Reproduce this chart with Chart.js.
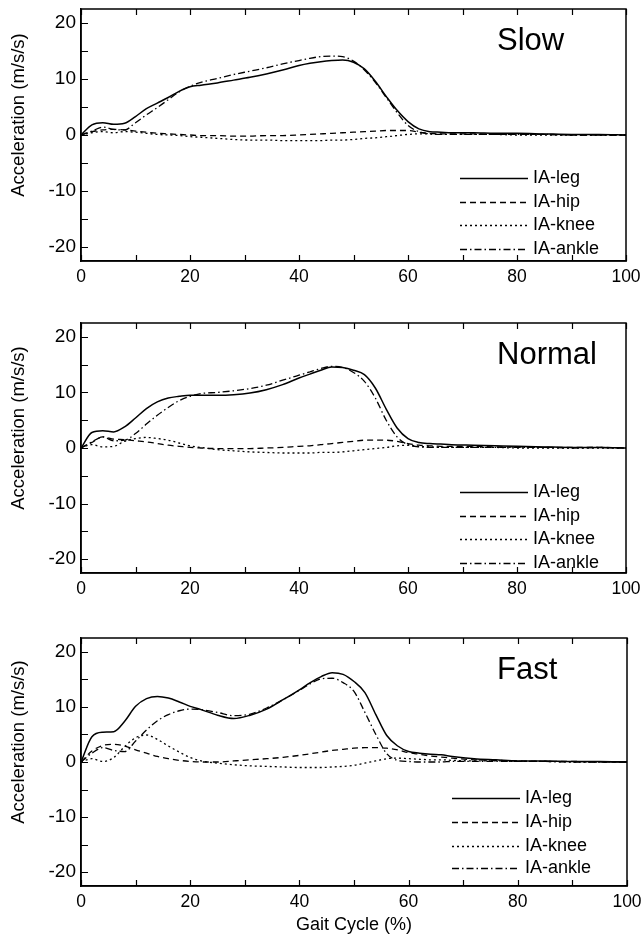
<!DOCTYPE html>
<html>
<head>
<meta charset="utf-8">
<script src="https://cdn.jsdelivr.net/npm/chart.js@4.4.1/dist/chart.umd.min.js"></script>
<style>
  body { margin: 0; background: #fff; width: 641px; height: 936px; position: relative; overflow: hidden; }
  canvas { position: absolute; left: 0; }
</style>
</head>
<body>
<canvas id="slowCanvas" width="641" height="300" style="top:0px"></canvas>
<canvas id="normalCanvas" width="641" height="315" style="top:300px"></canvas>
<canvas id="fastCanvas" width="641" height="321" style="top:615px"></canvas>
<script>
// gait cycle (%) sample points
var gaitCycle = [0, 2, 4, 6, 8, 10, 12, 14, 16, 18, 20, 22, 25, 28, 31, 34, 37, 40, 42, 44,
                 46, 48, 50, 52, 54, 56, 58, 60, 62, 64, 66, 68, 72, 76, 80, 85, 90, 95, 100];

var seriesLabels = ['IA-leg', 'IA-hip', 'IA-knee', 'IA-ankle'];
var xTickValues = [0, 10, 20, 30, 40, 50, 60, 70, 80, 90, 100];
var yTickValues = [-20, -15, -10, -5, 0, 5, 10, 15, 20];

// Slow
var slowLeg = [0, 1.8, 2.2, 1.9, 2.1, 3.3, 4.7, 5.7, 6.7, 7.8, 8.6, 8.9, 9.3, 9.8, 10.3,
               10.9, 11.6, 12.4, 12.8, 13.1, 13.3, 13.4, 13.0, 11.8, 9.6, 6.9, 4.4, 2.4, 1.1, 0.6,
               0.5, 0.4, 0.4, 0.3, 0.3, 0.2, 0.1, 0.1, 0];
var slowHip = [0, 0.6, 0.9, 1.0, 0.9, 0.7, 0.5, 0.3, 0.2, 0.1, 0, -0.1, -0.1, -0.2, -0.2,
               -0.1, -0.1, 0, 0.1, 0.2, 0.3, 0.4, 0.5, 0.6, 0.7, 0.8, 0.8, 0.8, 0.5, 0.3,
               0.2, 0.2, 0.2, 0.1, 0.1, 0.1, 0, 0, 0];
var slowKnee = [0, 0.4, 0.6, 0.4, 0.6, 0.5, 0.3, 0.1, 0, -0.1, -0.3, -0.4, -0.6, -0.8, -0.9,
                -0.9, -1.0, -1.0, -1.0, -1.0, -0.9, -0.9, -0.8, -0.6, -0.5, -0.3, -0.1, 0.1, 0.2, 0.2,
                0.1, 0.1, 0.1, 0.1, 0, 0, 0, 0, 0];
var slowAnkle = [0, 0.7, 1.4, 1.0, 0.9, 2.2, 3.6, 4.9, 6.3, 7.7, 8.7, 9.4, 10.1, 10.8, 11.4,
                 12.0, 12.7, 13.3, 13.7, 14.0, 14.1, 14.0, 13.2, 11.6, 9.4, 6.7, 4.0, 1.7, 0.6, 0.2,
                 0.1, 0.1, 0.1, 0.1, 0.1, 0.1, 0, 0, 0];

// Normal
var normalLeg = [0, 2.8, 3.1, 2.9, 3.8, 5.4, 7.1, 8.3, 9.0, 9.3, 9.5, 9.5, 9.5, 9.6, 9.9,
                 10.5, 11.4, 12.6, 13.3, 14.0, 14.6, 14.5, 14.0, 13.2, 10.8, 7.0, 3.6, 1.7, 1.0, 0.8,
                 0.7, 0.6, 0.5, 0.4, 0.3, 0.2, 0.1, 0.1, 0];
var normalHip = [0, 1.0, 2.0, 1.6, 1.5, 1.3, 1.1, 0.8, 0.5, 0.3, 0.1, 0, -0.1, -0.1, -0.1,
                 0, 0.1, 0.3, 0.4, 0.6, 0.8, 1.0, 1.2, 1.4, 1.4, 1.4, 1.2, 0.8, 0.5, 0.4,
                 0.3, 0.3, 0.3, 0.2, 0.2, 0.1, 0.1, 0.1, 0];
var normalKnee = [0, 0.6, 0.2, 0.3, 1.2, 1.7, 1.9, 1.7, 1.4, 0.9, 0.4, 0.1, -0.3, -0.5, -0.7,
                  -0.8, -0.9, -0.9, -0.9, -0.8, -0.8, -0.7, -0.5, -0.3, -0.1, 0.1, 0.4, 0.5, 0.3, 0.2,
                  0.1, 0.1, 0.1, 0.1, 0, 0, 0, 0, 0];
var normalAnkle = [0, 1.1, 2.0, 1.3, 1.4, 2.6, 4.3, 5.9, 7.3, 8.5, 9.3, 9.8, 10.0, 10.3, 10.7,
                   11.3, 12.2, 13.1, 13.7, 14.3, 14.7, 14.5, 13.6, 12.0, 9.0, 5.0, 2.0, 0.6, 0.2, 0.1,
                   0.1, 0.1, 0.1, 0.1, 0.1, 0.1, 0, 0.1, 0];

// Fast
var fastLeg = [0, 4.6, 5.4, 5.5, 7.4, 10.1, 11.5, 11.9, 11.6, 10.9, 10.1, 9.5, 8.5, 7.9, 8.5,
               9.6, 11.3, 13.1, 14.4, 15.5, 16.2, 15.9, 14.6, 12.6, 8.6, 4.8, 2.9, 1.9, 1.6, 1.4,
               1.3, 1.0, 0.6, 0.4, 0.2, 0.2, 0.1, 0.1, 0];
var fastHip = [0, 2.0, 3.0, 3.2, 2.9, 2.2, 1.6, 1.0, 0.6, 0.3, 0.1, 0, 0, 0.2, 0.4,
               0.6, 0.85, 1.2, 1.5, 1.8, 2.1, 2.3, 2.5, 2.6, 2.6, 2.5, 2.2, 1.7, 1.4, 1.1,
               0.9, 0.7, 0.4, 0.3, 0.2, 0.1, 0.1, 0, 0];
var fastKnee = [0, 0.6, 0.1, 0.8, 2.8, 4.4, 4.9, 4.1, 2.9, 1.8, 0.8, 0.2, -0.2, -0.5, -0.7,
                -0.8, -0.9, -1.0, -1.0, -1.0, -0.9, -0.8, -0.6, -0.2, 0.2, 0.6, 0.7, 0.6, 0.5, 0.4,
                0.4, 0.3, 0.2, 0.2, 0.1, 0.1, 0, 0, 0];
var fastAnkle = [0, 1.6, 2.6, 2.1, 1.9, 3.8, 5.8, 7.5, 8.6, 9.3, 9.6, 9.5, 9.0, 8.4, 8.7,
                 9.8, 11.3, 13.0, 14.2, 15.1, 15.2, 14.4, 12.8, 9.0, 5.0, 1.5, 0.3, 0.1, 0, 0,
                 0, 0.1, 0.1, 0.1, 0.1, 0.1, 0, 0, 0];

var FONT = '"Liberation Sans", Arial, Helvetica, sans-serif';
var dashes = [[], [6, 4], [2, 3], [7, 3, 1.5, 3]];

function points(values) {
    return values.map(function(v, i) { return { x: gaitCycle[i], y: v }; });
}

// frame box, inward ticks, speed title, y title and legend
var decorations = {
    id: 'decorations',
    afterDatasetsDraw: function(chart, args, opts) {
        var ctx = chart.ctx;
        var a = chart.chartArea;
        var xs = chart.scales.x, ys = chart.scales.y;
        ctx.save();
        ctx.strokeStyle = '#000';
        ctx.lineWidth = 1.5;
        ctx.strokeRect(a.left, a.top, a.right - a.left, a.bottom - a.top);
        ctx.lineWidth = 1.2;
        ctx.beginPath();
        xTickValues.forEach(function(v) {
            var px = Math.round(xs.getPixelForValue(v)) + 0.5;
            ctx.moveTo(px, a.bottom); ctx.lineTo(px, a.bottom - 6);
            ctx.moveTo(px, a.top); ctx.lineTo(px, a.top + 6);
        });
        yTickValues.forEach(function(v) {
            var py = Math.round(ys.getPixelForValue(v)) + 0.5;
            ctx.moveTo(a.left, py); ctx.lineTo(a.left + 7, py);
        });
        ctx.stroke();

        ctx.fillStyle = '#000';
        ctx.font = '31px ' + FONT;
        ctx.textAlign = 'left';
        ctx.textBaseline = 'alphabetic';
        ctx.fillText(opts.title, 497, a.top + 41);

        ctx.save();
        ctx.translate(19, (a.top + a.bottom) / 2 - 20);
        ctx.rotate(-Math.PI / 2);
        ctx.font = '18.5px ' + FONT;
        ctx.textAlign = 'center';
        ctx.textBaseline = 'middle';
        ctx.fillText('Acceleration (m/s/s)', 0, 0);
        ctx.restore();

        ctx.font = '18px ' + FONT;
        ctx.textBaseline = 'middle';
        chart.data.datasets.forEach(function(ds, i) {
            var y = Math.round(a.bottom + opts.legendRows[i]) + 0.5;
            ctx.setLineDash(ds.borderDash);
            ctx.lineWidth = ds.borderWidth;
            ctx.beginPath();
            ctx.moveTo(opts.legendX, y);
            ctx.lineTo(opts.legendX + 68, y);
            ctx.stroke();
            ctx.setLineDash([]);
            ctx.fillText(ds.label, opts.legendX + 73, y);
        });
        ctx.restore();
    }
};

function makeChart(canvasId, title, series, cfg) {
    var ctx = document.getElementById(canvasId).getContext('2d');
    return new Chart(ctx, {
        type: 'line',
        data: {
            datasets: series.map(function(values, i) {
                return {
                    label: seriesLabels[i],
                    data: points(values),
                    borderColor: '#000',
                    borderWidth: i === 0 ? 1.5 : 1.3,
                    borderDash: dashes[i],
                    pointRadius: 0,
                    fill: false,
                    cubicInterpolationMode: 'monotone'
                };
            })
        },
        options: {
            responsive: false,
            animation: false,
            layout: { padding: { top: cfg.top, right: cfg.right, left: 0, bottom: 0 } },
            plugins: {
                legend: { display: false },
                tooltip: { enabled: false },
                decorations: { title: title, legendRows: cfg.legendRows, legendX: cfg.legendX }
            },
            scales: {
                x: {
                    type: 'linear',
                    min: 0,
                    max: 100,
                    afterFit: function(scale) {
                        scale.height = cfg.xHeight;
                        scale.paddingLeft = 0;
                        scale.paddingRight = 0;
                    },
                    afterBuildTicks: function(scale) {
                        scale.ticks = xTickValues.map(function(v) { return { value: v }; });
                    },
                    ticks: {
                        autoSkip: false,
                        maxRotation: 0,
                        padding: 6,
                        color: '#000',
                        font: { family: FONT, size: 17.5 },
                        callback: function(v) { return v % 20 === 0 ? v : ''; }
                    },
                    grid: { drawOnChartArea: false, drawTicks: false },
                    border: { color: '#000', width: 1.5 },
                    title: {
                        display: cfg.xTitle,
                        text: 'Gait Cycle (%)',
                        color: '#000',
                        font: { family: FONT, size: 18 },
                        padding: { top: 0, bottom: 0 }
                    }
                },
                y: {
                    min: -22.5,
                    max: 22.5,
                    afterFit: function(scale) {
                        scale.width = 81;
                        scale.paddingTop = 0;
                        scale.paddingBottom = 0;
                    },
                    afterBuildTicks: function(scale) {
                        scale.ticks = yTickValues.map(function(v) { return { value: v }; });
                    },
                    ticks: {
                        autoSkip: false,
                        padding: 5,
                        color: '#000',
                        font: { family: FONT, size: 19 },
                        callback: function(v) { return v % 10 === 0 ? v : ''; }
                    },
                    grid: { drawOnChartArea: false, drawTicks: false },
                    border: { color: '#000', width: 1.5 }
                }
            }
        },
        plugins: [decorations]
    });
}

const chartSlow = makeChart('slowCanvas', 'Slow', [slowLeg, slowHip, slowKnee, slowAnkle], {
    top: 9, right: 15, xHeight: 39, xTitle: false, legendX: 460, legendRows: [-83, -59, -36, -12]
});
const chartNormal = makeChart('normalCanvas', 'Normal', [normalLeg, normalHip, normalKnee, normalAnkle], {
    top: 23, right: 15, xHeight: 42, xTitle: false, legendX: 460, legendRows: [-81, -57, -34, -10]
});
const chartFast = makeChart('fastCanvas', 'Fast', [fastLeg, fastHip, fastKnee, fastAnkle], {
    top: 23, right: 14, xHeight: 50, xTitle: true, legendX: 452, legendRows: [-88, -64, -40, -18]
});
</script>
</body>
</html>
